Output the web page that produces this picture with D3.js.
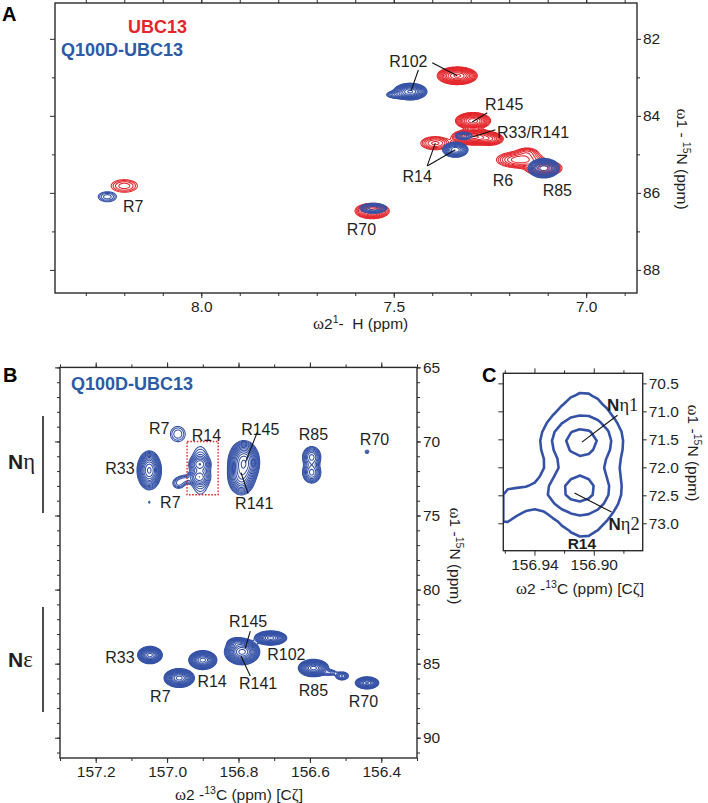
<!DOCTYPE html>
<html><head><meta charset="utf-8">
<script src="https://cdn.jsdelivr.net/npm/d3@7"></script>
<style>
body{margin:0;background:#fff}
text{font-family:"Liberation Sans",Arial,Helvetica,sans-serif}
.serif{font-family:"Liberation Serif","Times New Roman",serif}
</style>
</head><body>
<svg id="c" width="708" height="803"></svg>
<script>
// ===================== DATA =====================
// Peaks: [label, x ppm, y ppm, width x (ppm), width y (ppm), intensity]
// Panel A: 1H-15N spectrum (x = 1H ppm, y = 15N ppm)
const peaksA_UBC13 = [
  ["R7",      8.200, 85.82, 0.023, 0.110, 3],
  ["R70",     7.556, 86.47, 0.020, 0.090, 12],
  ["R102",    7.335, 82.96, 0.020, 0.088, 30],
  ["R145",    7.294, 84.13, 0.018, 0.085, 25],
  ["R33/R141",7.292, 84.55, 0.022, 0.080, 30],
  ["R33b",    7.250, 84.60, 0.016, 0.075, 10],
  ["R14",     7.392, 84.71, 0.021, 0.095, 5],
  ["R6",      7.172, 85.14, 0.030, 0.105, 8],
  ["R6b",     7.153, 84.95, 0.016, 0.075, 3],
  ["R85",     7.110, 85.36, 0.022, 0.095, 10]
];
const peaksA_Q100D = [
  ["R7",   8.244, 86.10, 0.016, 0.088, 3],
  ["R70",  7.553, 86.40, 0.017, 0.064, 8],
  ["R102", 7.457, 83.37, 0.016, 0.080, 40],
  ["R102b",7.490, 83.45, 0.015, 0.050, 6],
  ["R14",  7.340, 84.88, 0.0135,0.080, 20],
  ["R33",  7.318, 84.52, 0.013, 0.060, 4],
  ["R85",  7.110, 85.36, 0.016, 0.100, 25]
];
const labelsA = [["R7",8.177,86.36],["R70",7.584,86.94],["R102",7.462,82.57],["R145",7.213,83.71],
  ["R33/R141",7.138,84.42],["R14",7.439,85.56],["R6",7.216,85.66],["R85",7.075,85.92]];
const leadersA = [[7.400,82.62,7.335,82.96],[7.436,82.81,7.455,83.35],[7.257,83.92,7.296,84.16],
  [7.236,84.36,7.296,84.55],[7.413,85.30,7.392,84.71],[7.413,85.30,7.340,84.88]];
const domainA_x = [8.38, 6.868], domainA_y = [81.07, 88.6];
const majorA_x = [8.0, 7.5, 7.0], majorA_y = [82, 84, 86, 88];
const minorA_x = d3.range(69, 84).map(d => d / 10), minorA_y = [83, 85, 87];

// Panel B: 13C-15N spectrum of Q100D-UBC13 (x = 13C ppm, y = 15N ppm)
const peaksB = [
  ["R33 Nη",   157.050, 71.95, 0.0135, 0.52, 25],
  ["dot",      157.050, 74.10, 0.003,  0.10, 1.3],
  ["R7 Nη a",  156.970, 69.50, 0.017,  0.42, 2.1],
  ["R7 Nη b",  156.968, 72.82, 0.012,  0.26, 2.4],
  ["R7 link",  156.950, 72.55, 0.012,  0.20, 1.9],
  ["R14 base", 156.907, 71.95, 0.017,  1.00, 3.6],
  ["R14 Nη1",  156.909, 71.52, 0.014,  0.25, 5],
  ["R14 Nη2",  156.911, 72.42, 0.014,  0.25, 5],
  ["R145 Nη",  156.785, 71.40, 0.017,  0.56, 30],
  ["R141 Nη",  156.792, 72.40, 0.016,  0.52, 15],
  ["R85 Nη1",  156.595, 71.05, 0.013,  0.36, 7],
  ["R85 Nη2",  156.595, 72.10, 0.013,  0.36, 7],
  ["R70 Nη",   156.440, 70.70, 0.006,  0.12, 1.5],
  ["R33 Nε",   157.048, 84.42, 0.013,  0.22, 35],
  ["R14 Nε",   156.900, 84.76, 0.0148, 0.24, 35],
  ["R7 Nε",    156.966, 85.97, 0.016,  0.24, 35],
  ["R145 Nε",  156.790, 84.20, 0.018,  0.32, 45],
  ["R145 b",   156.805, 83.60, 0.012,  0.16, 8],
  ["R102 Nε",  156.710, 83.27, 0.017,  0.18, 35],
  ["R85 Nε",   156.590, 85.30, 0.016,  0.22, 35],
  ["R85 link", 156.545, 85.60, 0.012,  0.12, 3],
  ["R85 tail", 156.510, 85.83, 0.010,  0.15, 5],
  ["R70 Nε",   156.440, 86.30, 0.013,  0.16, 25]
];
const labelsB = [["R7",157.022,69.08],["R14",156.890,69.55],["R145",156.739,69.15],["R85",156.590,69.48],
  ["R70",156.419,69.82],["R33",157.132,71.84],["R7",156.991,74.13],["R141",156.756,74.19],
  ["R33",157.132,84.56],["R14",156.874,86.17],["R7",157.019,87.17],["R145",156.773,82.13],
  ["R141",156.745,86.30],["R102",156.666,84.35],["R85",156.590,86.77],["R70",156.450,87.52]];
const leadersB = [[156.747,69.35,156.781,71.43],[156.773,73.52,156.793,72.10],
  [156.767,82.80,156.781,83.95],[156.767,85.83,156.793,84.49]];
const boxB = [156.944, 70.0, 156.857, 73.6];
const domainB_x = [157.30, 156.30], domainB_y = [65, 91.37];
const majorB_x = [157.2, 157.0, 156.8, 156.6, 156.4], majorB_y = [65, 70, 75, 80, 85, 90];
const minorB_x = d3.range(1563, 1574).map(d => d / 10), minorB_y = d3.range(65, 92);

// Panel C: zoom on R14 Nη
const domainC_x = [156.961, 156.867], domainC_y = [70.32, 73.49];
const majorC_x = [156.94, 156.90], majorC_y = [70.5, 71.0, 71.5, 72.0, 72.5, 73.0];
const minorC_x = [156.96, 156.92, 156.88];
const levelsC = [1.6, 3.5, 6.5];
const leadersC = [[156.884,71.07,156.908,71.55],[156.888,72.80,156.913,72.46]];

// ===================== DRAWING =====================
const RED = "#e3262b", BLUE = "#3552a6", TXTBLUE = "#2b5aa7", INK = "#1f1f1f", AX = "#2b2b2b";
const svg = d3.select("#c");

function field(x, y, step, peaks) {
  const [x0, x1] = x.range(), [y0, y1] = y.range();
  const n = Math.ceil((x1 - x0) / step) + 1, m = Math.ceil((y1 - y0) / step) + 1;
  const v = new Float64Array(n * m);
  const px = new Float64Array(n), py = new Float64Array(m);
  for (let i = 0; i < n; i++) px[i] = x.invert(x0 + (i + 0.5) * step);
  for (let j = 0; j < m; j++) py[j] = y.invert(y0 + (j + 0.5) * step);
  for (const p of peaks) {
    const [, cx, cy, sx, sy, a] = p;
    for (let j = 0; j < m; j++) {
      const dy = (py[j] - cy) / sy; if (Math.abs(dy) > 6) continue;
      const ey = a * Math.exp(-dy * dy / 2);
      for (let i = 0; i < n; i++) {
        const dx = (px[i] - cx) / sx; if (Math.abs(dx) > 6) continue;
        v[j * n + i] += ey * Math.exp(-dx * dx / 2);
      }
    }
  }
  return {v, n, m, x0, y0};
}
function drawContours(g, x, y, step, peaks, levels, color, sw) {
  const f = field(x, y, step, peaks);
  const cs = d3.contours().size([f.n, f.m]).thresholds(levels)(f.v);
  const path = d3.geoPath(d3.geoIdentity().scale(step).translate([f.x0, f.y0]));
  g.append("g").selectAll("path").data(cs).join("path")
    .attr("d", path).attr("fill", "none").attr("stroke", color)
    .attr("stroke-width", sw).attr("stroke-linejoin", "round");
}
let clipId = 0;
function frame(x, y, o) {
  const g = svg.append("g");
  const [x0, x1] = x.range(), [y0, y1] = y.range();
  const id = "clip" + (clipId++);
  g.append("clipPath").attr("id", id).append("rect").attr("x", x0).attr("y", y0).attr("width", x1 - x0).attr("height", y1 - y0);
  const plot = g.append("g").attr("clip-path", `url(#${id})`);
  const axes = g.append("g");
  const mk = (ax, pos, vals, size, fmt, pad) => {
    const a = axes.append("g").attr("transform", pos).call(ax.tickValues(vals).tickSize(size).tickPadding(pad || 2).tickFormat(fmt || ""));
    a.select(".domain").remove();
    a.selectAll("line").attr("stroke", AX).attr("stroke-width", 1);
    a.selectAll("text").attr("font-size", o.fs).attr("fill", INK).attr("font-family", '"Liberation Sans",Arial,sans-serif');
    return a;
  };
  mk(d3.axisBottom(x), `translate(0,${y1})`, o.xMinor, 3);
  mk(d3.axisTop(x), `translate(0,${y0})`, o.xMinor, 3);
  mk(d3.axisBottom(x), `translate(0,${y1})`, o.xMajor, 5, d3.format(o.xFmt), 3);
  mk(d3.axisTop(x), `translate(0,${y0})`, o.xMajor, 5);
  mk(d3.axisLeft(y), `translate(${x0},0)`, o.yMinor, 3);
  mk(d3.axisRight(y), `translate(${x1},0)`, o.yMinor, 3);
  mk(d3.axisLeft(y), `translate(${x0},0)`, o.yMajor, 5);
  mk(d3.axisRight(y), `translate(${x1},0)`, o.yMajor, 4, d3.format(o.yFmt), 2);
  axes.append("rect").attr("x", x0).attr("y", y0).attr("width", x1 - x0).attr("height", y1 - y0)
    .attr("fill", "none").attr("stroke", AX).attr("stroke-width", 1.4);
  return {plot, axes: g};
}
function addLabels(g, x, y, labels, fs) {
  g.selectAll(null).data(labels).join("text")
    .attr("x", d => x(d[1])).attr("y", d => y(d[2])).attr("dy", "0.36em")
    .attr("text-anchor", "middle").attr("font-size", fs).attr("fill", INK).text(d => d[0]);
}
function addLeaders(g, x, y, lines) {
  g.selectAll(null).data(lines).join("line")
    .attr("x1", d => x(d[0])).attr("y1", d => y(d[1])).attr("x2", d => x(d[2])).attr("y2", d => y(d[3]))
    .attr("stroke", "#111").attr("stroke-width", 1.1);
}
// rich text: parts [text, {serif, sup, bold}]
function rich(g, x, y, parts, fs, anchor, rot) {
  const t = g.append("text").attr("font-size", fs).attr("fill", INK).attr("text-anchor", anchor || "start")
    .style("white-space", "pre");
  if (rot) t.attr("transform", `translate(${x},${y}) rotate(${rot})`); else t.attr("x", x).attr("y", y);
  let up = false;
  for (const [s, o = {}] of parts) {
    const ts = t.append("tspan").text(s);
    if (o.serif) ts.attr("class", "serif").attr("font-size", fs * 1.08);
    if (o.bold) ts.attr("font-weight", "bold");
    if (o.sup && !up) { ts.attr("dy", -fs * 0.4).attr("font-size", fs * 0.68); up = true; }
    else if (o.sup) ts.attr("font-size", fs * 0.68);
    else if (up) { ts.attr("dy", fs * 0.4); up = false; }
  }
  return t;
}

// ---------- Panel A ----------
const xA = d3.scaleLinear().domain(domainA_x).range([55, 637]);
const yA = d3.scaleLinear().domain(domainA_y).range([3, 293]);
const levelsA = d3.range(0, 13).map(k => Math.pow(1.35, k));
const A = frame(xA, yA, {xMinor: minorA_x, xMajor: majorA_x, yMinor: minorA_y, yMajor: majorA_y, xFmt: ".1f", yFmt: "d", fs: 15.5});
drawContours(A.plot, xA, yA, 1, peaksA_UBC13, levelsA, RED, 1.05);
drawContours(A.plot, xA, yA, 1, peaksA_Q100D, levelsA, BLUE, 1.05);
addLeaders(A.axes, xA, yA, leadersA);
addLabels(A.axes, xA, yA, labelsA, 16);
svg.append("text").attr("x", 128).attr("y", 33).attr("font-size", 18).attr("font-weight", "bold").attr("fill", RED).text("UBC13");
svg.append("text").attr("x", 61).attr("y", 56).attr("font-size", 18).attr("font-weight", "bold").attr("fill", TXTBLUE).text("Q100D-UBC13");
svg.append("text").attr("x", 2).attr("y", 21).attr("font-size", 20).attr("font-weight", "bold").attr("fill", "#000").text("A");
rich(svg, 313, 329, [["ω", {serif: 1}], ["2"], ["1", {sup: 1}], ["-  H (ppm)"]], 15.5, "start");
rich(svg, 677, 159, [["ω", {serif: 1}], ["1 - "], ["15", {sup: 1}], ["N (ppm)"]], 15.5, "middle", 90);

// ---------- Panel B ----------
const xB = d3.scaleLinear().domain(domainB_x).range([60, 417]);
const yB = d3.scaleLinear().domain(domainB_y).range([367.4, 758]);
const levelsB = d3.range(0, 16).map(k => Math.pow(1.3, k));
const B = frame(xB, yB, {xMinor: minorB_x, xMajor: majorB_x, yMinor: minorB_y, yMajor: majorB_y, xFmt: ".1f", yFmt: "d", fs: 15.5});
drawContours(B.plot, xB, yB, 1, peaksB, levelsB, BLUE, 1.05);
B.axes.append("rect").attr("x", xB(boxB[0])).attr("y", yB(boxB[1]))
  .attr("width", xB(boxB[2]) - xB(boxB[0])).attr("height", yB(boxB[3]) - yB(boxB[1]))
  .attr("fill", "none").attr("stroke", RED).attr("stroke-width", 1.4).attr("stroke-dasharray", "1.6,1.6");
addLeaders(B.axes, xB, yB, leadersB);
addLabels(B.axes, xB, yB, labelsB, 16);
svg.append("text").attr("x", 71).attr("y", 390).attr("font-size", 18).attr("font-weight", "bold").attr("fill", TXTBLUE).text("Q100D-UBC13");
svg.append("text").attr("x", 3).attr("y", 382).attr("font-size", 20).attr("font-weight", "bold").attr("fill", "#000").text("B");
rich(svg, 8, 469, [["N", {bold: 1}], ["η", {serif: 1}]], 21, "start");
rich(svg, 8, 667, [["N", {bold: 1}], ["ε", {serif: 1}]], 21, "start");
svg.append("line").attr("x1", 43).attr("x2", 43).attr("y1", 416).attr("y2", 513).attr("stroke", "#111").attr("stroke-width", 1.5);
svg.append("line").attr("x1", 43).attr("x2", 43).attr("y1", 607).attr("y2", 712).attr("stroke", "#111").attr("stroke-width", 1.5);
rich(svg, 239, 800, [["ω", {serif: 1}], ["2 -"], ["13", {sup: 1}], ["C (ppm) [C"], ["ζ", {serif: 1}], ["]"]], 15.5, "middle");
rich(svg, 450, 556, [["ω", {serif: 1}], ["1 -"], ["15", {sup: 1}], ["N (ppm)"]], 15.5, "middle", 90);

// ---------- Panel C ----------
const xC = d3.scaleLinear().domain(domainC_x).range([503.3, 642.7]);
const yC = d3.scaleLinear().domain(domainC_y).range([373.3, 550.7]);
const C = frame(xC, yC, {xMinor: minorC_x, xMajor: majorC_x, yMinor: [], yMajor: majorC_y, xFmt: ".2f", yFmt: ".1f", fs: 15.5});
drawContours(C.plot, xC, yC, 9, peaksB, levelsC, BLUE, 2.6);
addLeaders(C.axes, xC, yC, leadersC);
rich(C.axes, xC(156.891), yC(70.87) + 7, [["N", {bold: 1}], ["η1", {serif: 1}]], 17, "start");
rich(C.axes, xC(156.890), yC(73.0) + 7, [["N", {bold: 1}], ["η2", {serif: 1}]], 17, "start");
C.axes.append("text").attr("x", xC(156.908)).attr("y", yC(73.35) + 6).attr("text-anchor", "middle")
  .attr("font-size", 15.5).attr("font-weight", "bold").attr("fill", INK).text("R14");
svg.append("text").attr("x", 482).attr("y", 382).attr("font-size", 20).attr("font-weight", "bold").attr("fill", "#000").text("C");
rich(svg, 580, 594, [["ω", {serif: 1}], ["2 -"], ["13", {sup: 1}], ["C (ppm) [C"], ["ζ", {serif: 1}], ["]"]], 15.5, "middle");
rich(svg, 688, 453, [["ω", {serif: 1}], ["1 -"], ["15", {sup: 1}], ["N (ppm)"]], 15.5, "middle", 90);
</script>
</body></html>
